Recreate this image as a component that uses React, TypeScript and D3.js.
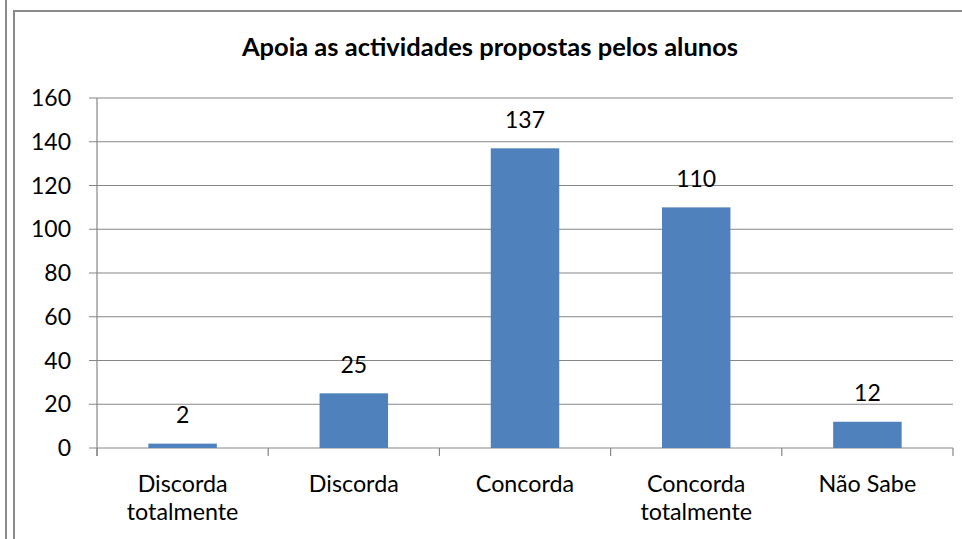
import React from "react";
import * as d3 from "d3";

const categories: string[][] = [
  ["Discorda", "totalmente"],
  ["Discorda"],
  ["Concorda"],
  ["Concorda", "totalmente"],
  ["Não Sabe"],
];
const values: number[] = [2, 25, 137, 110, 12];
const yTicks: number[] = [0, 20, 40, 60, 80, 100, 120, 140, 160];
const title = "Apoia as actividades propostas pelos alunos";

const W = 962;
const H = 539;
const FONT = "Lato, 'Open Sans', sans-serif";

export default function App() {
  const left = 97;
  const right = 953;
  const top = 98;
  const bottom = 448;
  const x = d3
    .scaleBand<number>()
    .domain(values.map((_, i) => i))
    .range([left, right])
    .paddingInner(0.6)
    .paddingOuter(0.3);
  const band = d3.scaleBand<number>().domain(values.map((_, i) => i)).range([left, right]);
  const y = d3.scaleLinear().domain([0, 160]).range([bottom, top]);
  const grid = "#868686";
  const boundaries = d3.range(values.length + 1).map((i) => left + i * band.step());

  return (
    <svg
      width={W}
      height={H}
      style={{ position: "absolute", left: 0, top: 0, background: "#fff" }}
      fontFamily={FONT}
    >
      <rect x={0} y={0} width={W} height={H} fill="#fff" />
      <line x1={6} x2={6} y1={0} y2={H} stroke="#8a8a8a" strokeWidth={2} />
      <line x1={14} x2={14} y1={10} y2={H} stroke="#8a8a8a" strokeWidth={2} />
      <line x1={13} x2={W} y1={11} y2={11} stroke="#8a8a8a" strokeWidth={2} />

      <text x={490} y={56} textAnchor="middle" fontWeight="bold" fontSize={25.5} fill="#000">
        {title}
      </text>

      {yTicks.map((t) => (
        <g key={t}>
          <line x1={left - 8} x2={right} y1={y(t)} y2={y(t)} stroke={grid} strokeWidth={1.2} />
          <text x={71} y={y(t) + 8} textAnchor="end" fontSize={23} fill="#000">
            {t}
          </text>
        </g>
      ))}
      <line x1={left} x2={left} y1={top} y2={bottom + 8} stroke={grid} strokeWidth={1.2} />
      {boundaries.map((b, i) => (
        <line key={i} x1={b} x2={b} y1={bottom} y2={bottom + 8} stroke={grid} strokeWidth={1.2} />
      ))}

      {values.map((v, i) => {
        const cx = (band(i) as number) + band.bandwidth() / 2;
        return (
          <g key={i}>
            <rect x={x(i)} y={y(v)} width={x.bandwidth()} height={y(0) - y(v)} fill="#4F81BD" />
            <text
              x={(x(i) as number) + x.bandwidth() / 2}
              y={y(v) - 20.5}
              textAnchor="middle"
              fontSize={23}
              fill="#000"
            >
              {v}
            </text>
            <text x={cx} y={492} textAnchor="middle" fontSize={23.3} fill="#000">
              {categories[i].map((line, j) => (
                <tspan key={j} x={cx} dy={j === 0 ? 0 : 28}>
                  {line}
                </tspan>
              ))}
            </text>
          </g>
        );
      })}
    </svg>
  );
}
